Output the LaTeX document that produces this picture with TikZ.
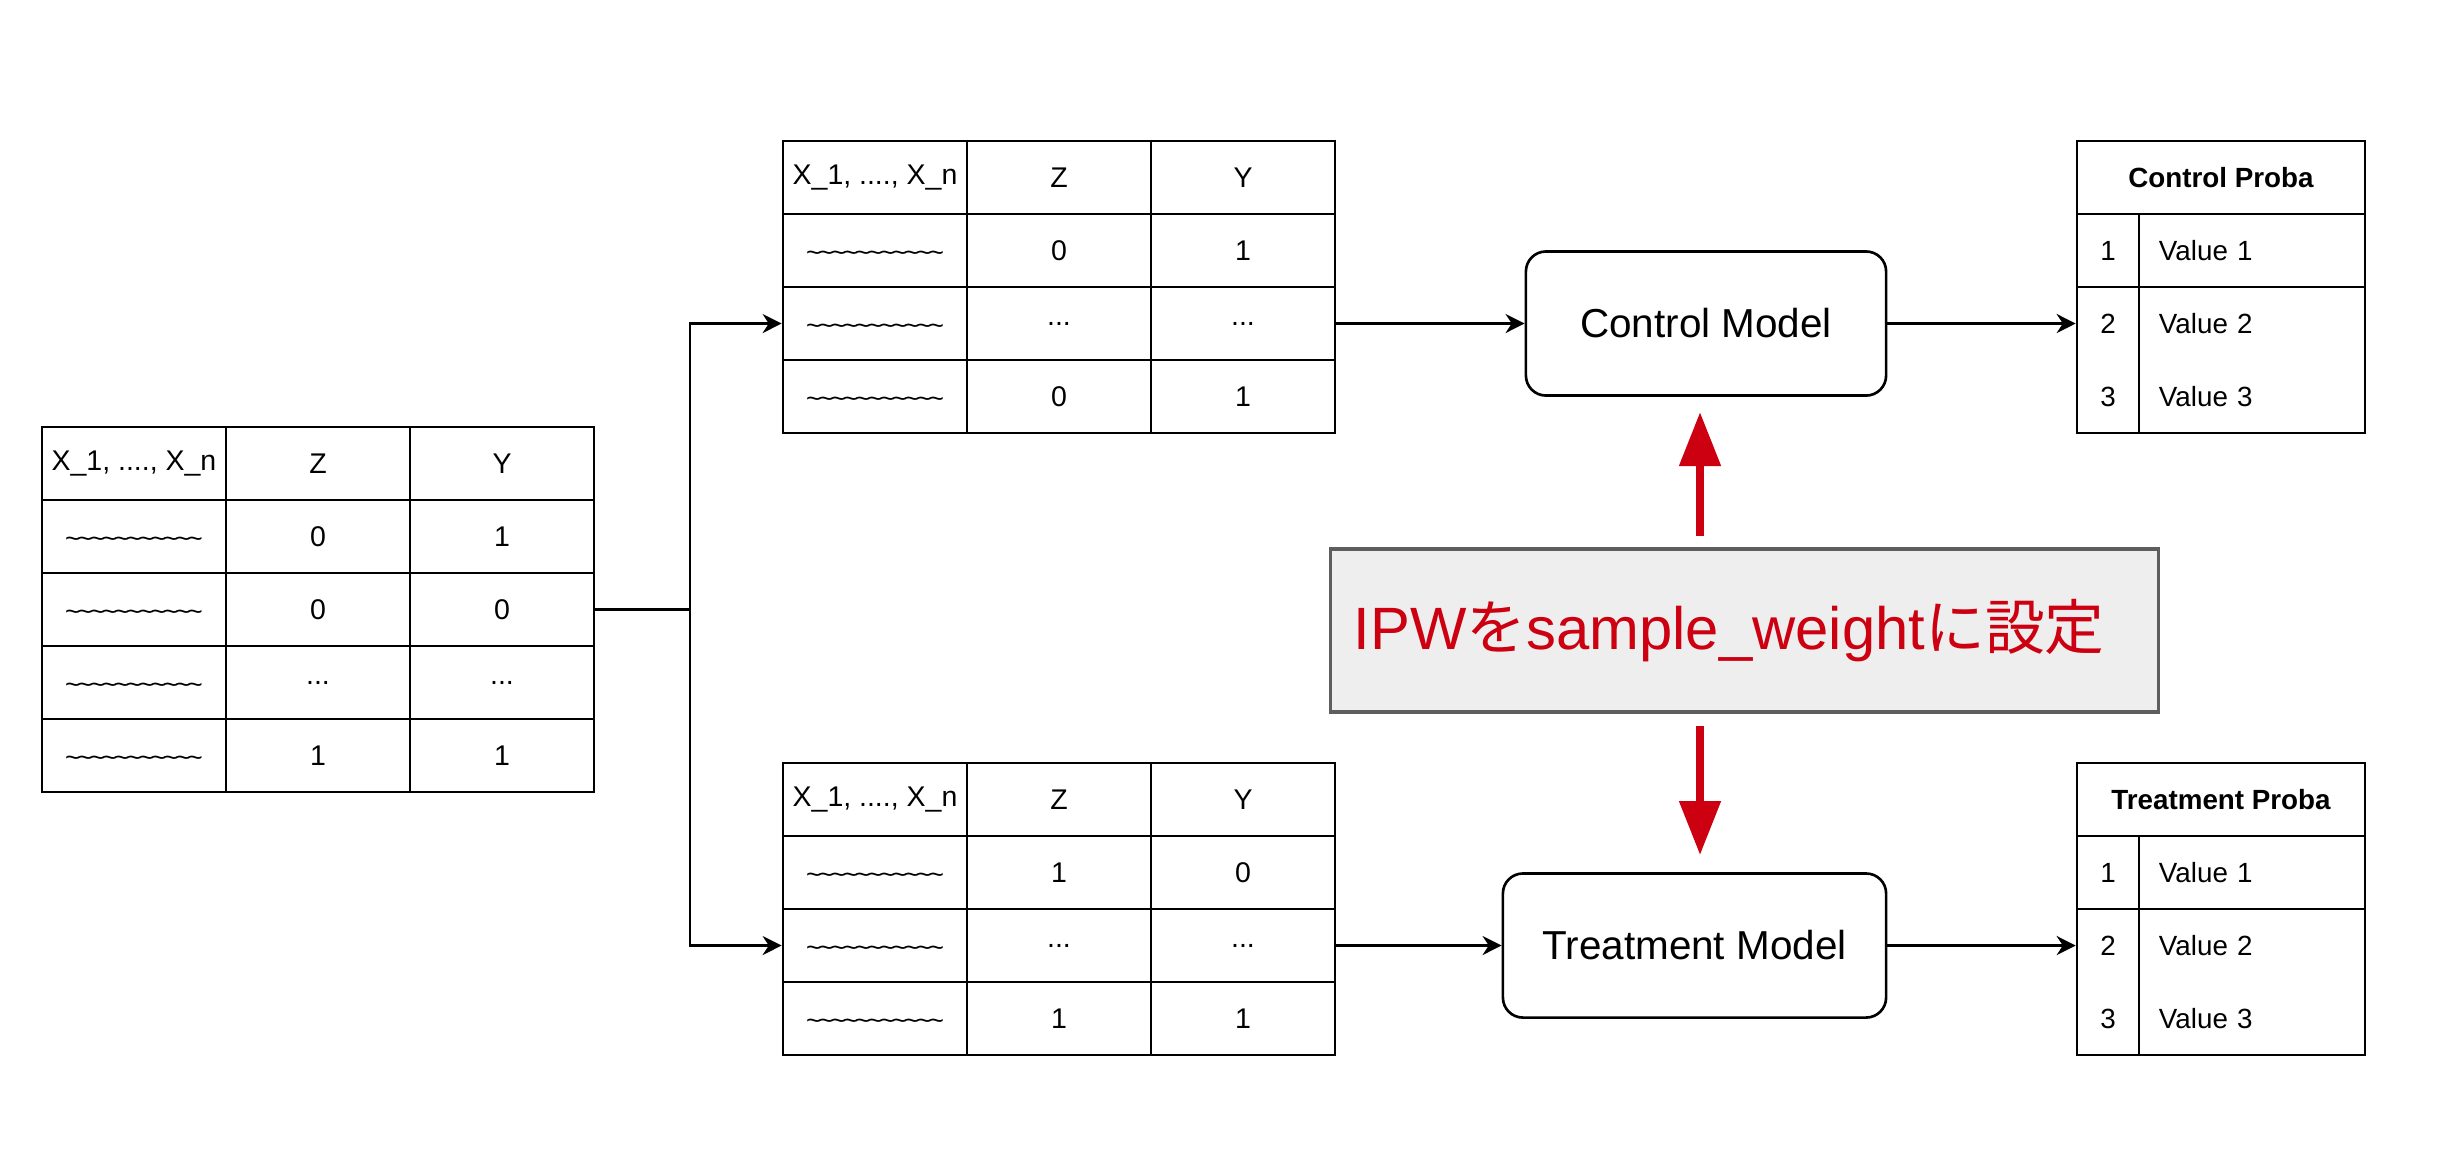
\documentclass[tikz,border=0pt]{standalone}
\usepackage{fontspec}
\setmainfont{Liberation Sans}
\newfontfamily\cjkfont{Noto Sans CJK JP}
\usetikzlibrary{arrows.meta}
\definecolor{ipwred}{HTML}{CC0011}
\definecolor{ipwfill}{HTML}{EEEEEE}
\definecolor{ipwline}{HTML}{5E5E5E}
\newcommand{\onetilde}{\textasciitilde\kern-0.9pt}
\newcommand{\tildes}{\raisebox{-3.2pt}[0pt][0pt]{\fontsize{7.5}{8}\selectfont\onetilde\onetilde\onetilde\onetilde\onetilde\onetilde\onetilde\onetilde\onetilde\onetilde\textasciitilde}}
\tikzset{
cell/.style={draw,line width=0.75pt,minimum width=1.84cm,minimum height=0.73cm,inner sep=0pt,font=\fontsize{8.1}{9.7}\selectfont},
numcell/.style={cell,minimum width=0.62cm,font=\fontsize{7.9}{9.5}\selectfont},
valcell/.style={draw,line width=0.75pt,minimum height=0.73cm,inner ysep=0pt,inner xsep=0.2cm,text width=1.86cm,align=left,font=\fontsize{7.9}{9.5}\selectfont},
headcell/.style={cell,minimum width=2.88cm,font=\fontsize{7.9}{9.5}\selectfont\bfseries},
model/.style={draw,line width=0.75pt,rounded corners=0.2cm,minimum height=1.44cm,font=\fontsize{11.5}{14}\selectfont},
flow/.style={line width=0.75pt,-{Stealth[length=0.19cm,width=0.19cm]}},
redflow/.style={draw=ipwred,line width=0.08cm,-{Triangle[length=0.54cm,width=0.40cm]},fill=ipwred}
}
\begin{document}
\begin{tikzpicture}[x=0.01cm,y=-0.01cm]
\useasboundingbox (0,0) rectangle (2452,1162);

\node[cell] (l11) at (134,463.5) {X\_1, ...., X\_n};
\node[cell] (l12) at (318,463.5) {Z};
\node[cell] (l13) at (502,463.5) {Y};
\node[cell] (l21) at (134,536.5) {\tildes};
\node[cell] (l22) at (318,536.5) {0};
\node[cell] (l23) at (502,536.5) {1};
\node[cell] (l31) at (134,609.5) {\tildes};
\node[cell] (l32) at (318,609.5) {0};
\node[cell] (l33) at (502,609.5) {0};
\node[cell] (l41) at (134,682.5) {\tildes};
\node[cell] (l42) at (318,682.5) {...};
\node[cell] (l43) at (502,682.5) {...};
\node[cell] (l51) at (134,755.5) {\tildes};
\node[cell] (l52) at (318,755.5) {1};
\node[cell] (l53) at (502,755.5) {1};

\node[cell] (t11) at (875,177.5) {X\_1, ...., X\_n};
\node[cell] (t12) at (1059,177.5) {Z};
\node[cell] (t13) at (1243,177.5) {Y};
\node[cell] (t21) at (875,250.5) {\tildes};
\node[cell] (t22) at (1059,250.5) {0};
\node[cell] (t23) at (1243,250.5) {1};
\node[cell] (t31) at (875,323.5) {\tildes};
\node[cell] (t32) at (1059,323.5) {...};
\node[cell] (t33) at (1243,323.5) {...};
\node[cell] (t41) at (875,396.5) {\tildes};
\node[cell] (t42) at (1059,396.5) {0};
\node[cell] (t43) at (1243,396.5) {1};

\node[cell] (b11) at (875,799.5) {X\_1, ...., X\_n};
\node[cell] (b12) at (1059,799.5) {Z};
\node[cell] (b13) at (1243,799.5) {Y};
\node[cell] (b21) at (875,872.5) {\tildes};
\node[cell] (b22) at (1059,872.5) {1};
\node[cell] (b23) at (1243,872.5) {0};
\node[cell] (b31) at (875,945.5) {\tildes};
\node[cell] (b32) at (1059,945.5) {...};
\node[cell] (b33) at (1243,945.5) {...};
\node[cell] (b41) at (875,1018.5) {\tildes};
\node[cell] (b42) at (1059,1018.5) {1};
\node[cell] (b43) at (1243,1018.5) {1};

\node[model,minimum width=3.6cm] (cmod) at (1706,323.5) {Control Model};
\node[model,minimum width=3.83cm] (tmod) at (1694.5,945.5) {Treatment Model};

\node[headcell] (cph) at (2221,177.5) {Control Proba};
\node[numcell] (cpn1) at (2108,250.5) {1};
\node[valcell] (cpv1) at (2252,250.5) {Value 1};
\node[numcell,minimum height=1.46cm] (cpn23) at (2108,360) {};
\node[valcell,minimum height=1.46cm] (cpv23) at (2252,360) {};
\node[numcell,draw=none] (cpn2) at (2108,323.5) {2};
\node[valcell,draw=none] (cpv2) at (2252,323.5) {Value 2};
\node[numcell,draw=none] (cpn3) at (2108,396.5) {3};
\node[valcell,draw=none] (cpv3) at (2252,396.5) {Value 3};

\node[headcell] (tph) at (2221,799.5) {Treatment Proba};
\node[numcell] (tpn1) at (2108,872.5) {1};
\node[valcell] (tpv1) at (2252,872.5) {Value 1};
\node[numcell,minimum height=1.46cm] (tpn23) at (2108,982) {};
\node[valcell,minimum height=1.46cm] (tpv23) at (2252,982) {};
\node[numcell,draw=none] (tpn2) at (2108,945.5) {2};
\node[valcell,draw=none] (tpv2) at (2252,945.5) {Value 2};
\node[numcell,draw=none] (tpn3) at (2108,1018.5) {3};
\node[valcell,draw=none] (tpv3) at (2252,1018.5) {Value 3};

\node[draw=ipwline,fill=ipwfill,line width=0.9pt,minimum width=8.27cm,minimum height=1.63cm,inner xsep=0.23cm,text width=7.81cm,align=left,text=ipwred,font=\fontsize{17}{20}\selectfont] (ipw) at (1744.5,630.5) {IPW{\cjkfont を}sample\_weight{\cjkfont に設定}};

\coordinate (split) at (690,609.5);
\coordinate (upfrom) at (1700,536);
\coordinate (upto) at (1700,412);
\coordinate (downfrom) at (1700,726);
\coordinate (downto) at (1700,855);

\draw[line width=0.75pt] (l33.east) -- (split);
\draw[flow] (split) |- (t31.west);
\draw[flow] (split) |- (b31.west);
\draw[flow] (t33.east) -- (cmod.west);
\draw[flow] (cmod.east) -- (cpn2.west);
\draw[flow] (b33.east) -- (tmod.west);
\draw[flow] (tmod.east) -- (tpn2.west);
\draw[redflow] (upfrom) -- (upto);
\draw[redflow] (downfrom) -- (downto);
\end{tikzpicture}
\end{document}
